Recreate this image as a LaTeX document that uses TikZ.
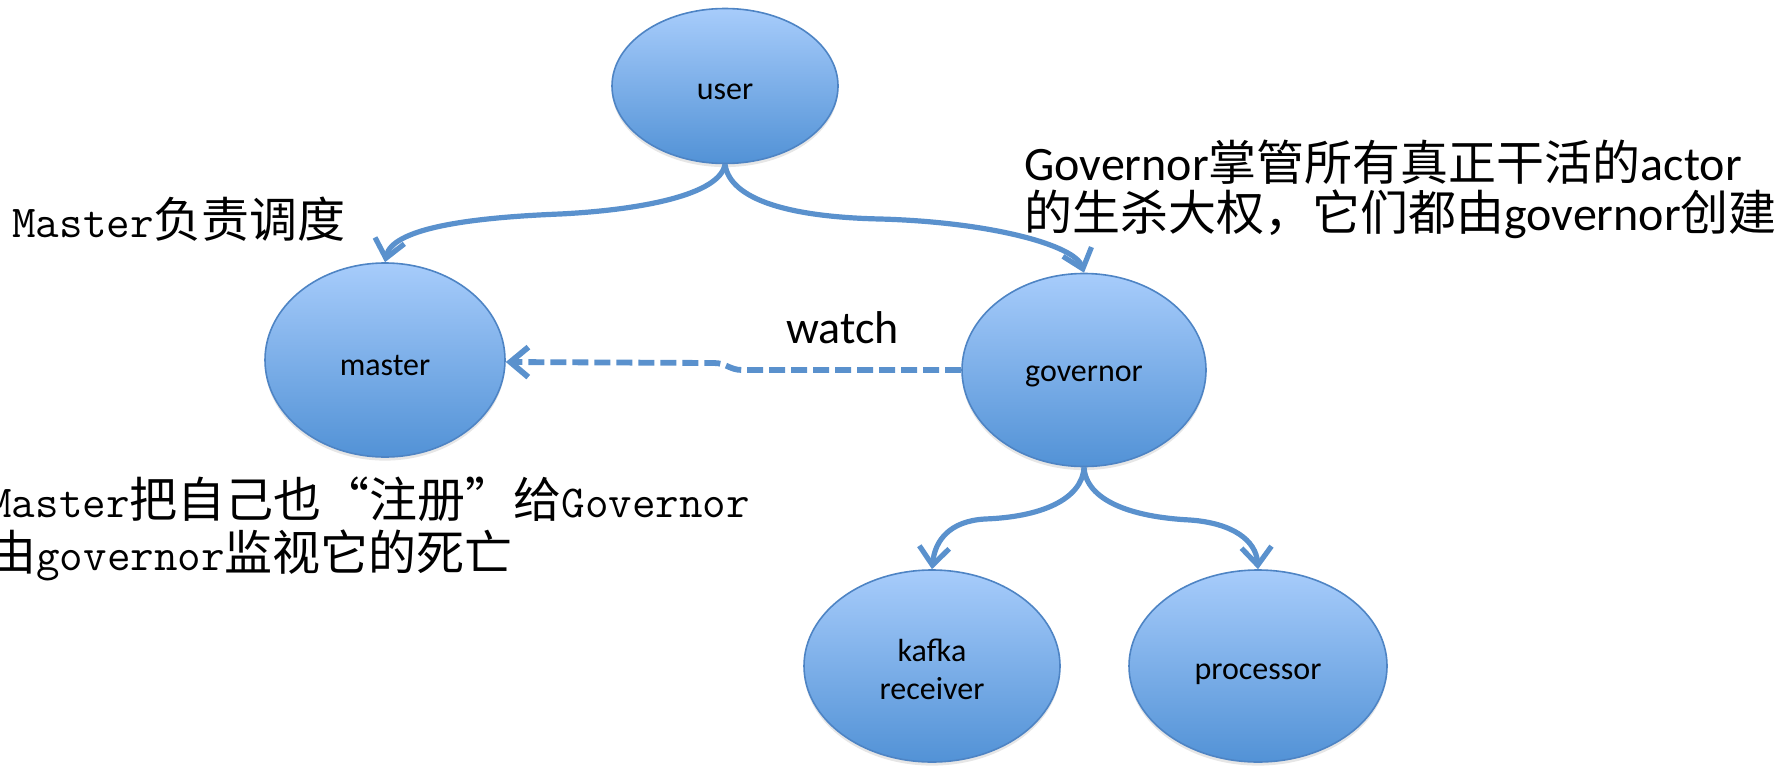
\documentclass[tikz,border=0pt]{standalone}
\usepackage{fontspec}
\setmainfont{Carlito}
\newfontfamily\cjk{Noto Sans CJK SC}
\newfontfamily\cjkq[CharacterWidth=Full]{Noto Sans CJK SC}
\newfontfamily\smono{Latin Modern Mono}
\newcommand\lat[1]{{\smono\fontsize{22.86}{27}\selectfont #1}}
\newcommand\dn[2][3.3pt]{\raisebox{-#1}[\height][\depth]{#2}}
\usetikzlibrary{shapes.geometric,arrows.meta,shadows}
\definecolor{ebord}{RGB}{78,132,196}
\definecolor{etop}{RGB}{167,204,251}
\definecolor{ebot}{RGB}{82,146,214}
\definecolor{arr}{RGB}{90,145,205}
\tikzset{
  oval/.style={ellipse, draw=ebord, line width=0.8pt, top color=etop, bottom color=ebot,
    inner sep=0pt, font=\fontsize{16}{19}\selectfont, align=center,
    drop shadow={opacity=0.2, shadow xshift=0pt, shadow yshift=-1.8pt}},
  conn/.style={draw=arr, line width=2.6pt, -{Straight Barb[length=9pt, width=15pt]}},
  dconn/.style={draw=arr, line width=2.9pt, dash pattern=on 8pt off 3pt,
    -{Straight Barb[length=9pt, width=15pt]}},
  lbl/.style={inner sep=0pt, anchor=base west},
  big/.style={font=\fontsize{24}{28}\selectfont},
}
\begin{document}
\begin{tikzpicture}[x=0.5pt, y=-0.5pt]
\useasboundingbox (0,0) rectangle (1791,765);
\node[oval, minimum width=113pt, minimum height=77.5pt] (user) at (725,86) {\dn[3pt]{user}};
\node[oval, minimum width=120pt, minimum height=97pt] (master) at (385,360) {\dn[2.8pt]{master}};
\node[oval, minimum width=122pt, minimum height=96.5pt] (governor) at (1084,370) {\dn[3.2pt]{governor}};
\node[oval, minimum width=128pt, minimum height=96pt] (kafka) at (932,666) {\dn[3.5pt]{\begin{tabular}{@{}c@{}}kafka\\receiver\end{tabular}}};
\node[oval, minimum width=129pt, minimum height=96pt] (processor) at (1258,666) {\dn[4pt]{processor}};

\draw[conn] (user.south) .. controls (720,195) and (640,210) .. (560,214)
  .. controls (460,218) and (392,230) .. (master.north);
\draw[conn] (user.south) .. controls (730,200) and (790,217) .. (880,219)
  .. controls (990,222) and (1075,245) .. (governor.north);
\draw[conn] (governor.south) .. controls (1082,500) and (1040,517) .. (985,519)
  .. controls (950,521) and (935,540) .. (kafka.north);
\draw[conn] (governor.south) .. controls (1086,500) and (1130,517) .. (1190,520)
  .. controls (1232,523) and (1256,540) .. (processor.north);
\draw[dconn] (governor.west) -- (742,370) .. controls (730,370) and (726,363) .. (714,363)
  -- ([yshift=-1pt]master.east);

\node[lbl, big] (watch) at (786,343) {\fontsize{23}{27}\selectfont watch};
\node[lbl, big] (t1) at (12,237) {\lat{Master}{\cjk 负责调度}};
\node[lbl, big] (t2) at (-12,517) {\lat{Master}{\cjk 把自己也}{\cjkq “}{\cjk 注册}{\cjkq ”}{\cjk 给}\lat{Governor}};
\node[lbl, big] (t3) at (-12,570) {{\cjk 由}\lat{governor}{\cjk 监视它的死亡}};
\node[lbl, big] (g1) at (1024,180) {Governor{\cjk 掌管所有真正干活的}actor};
\node[lbl, big] (g2) at (1024,230) {{\cjk 的生杀大权，它们都由}governor{\cjk 创建}};
\end{tikzpicture}
\end{document}
